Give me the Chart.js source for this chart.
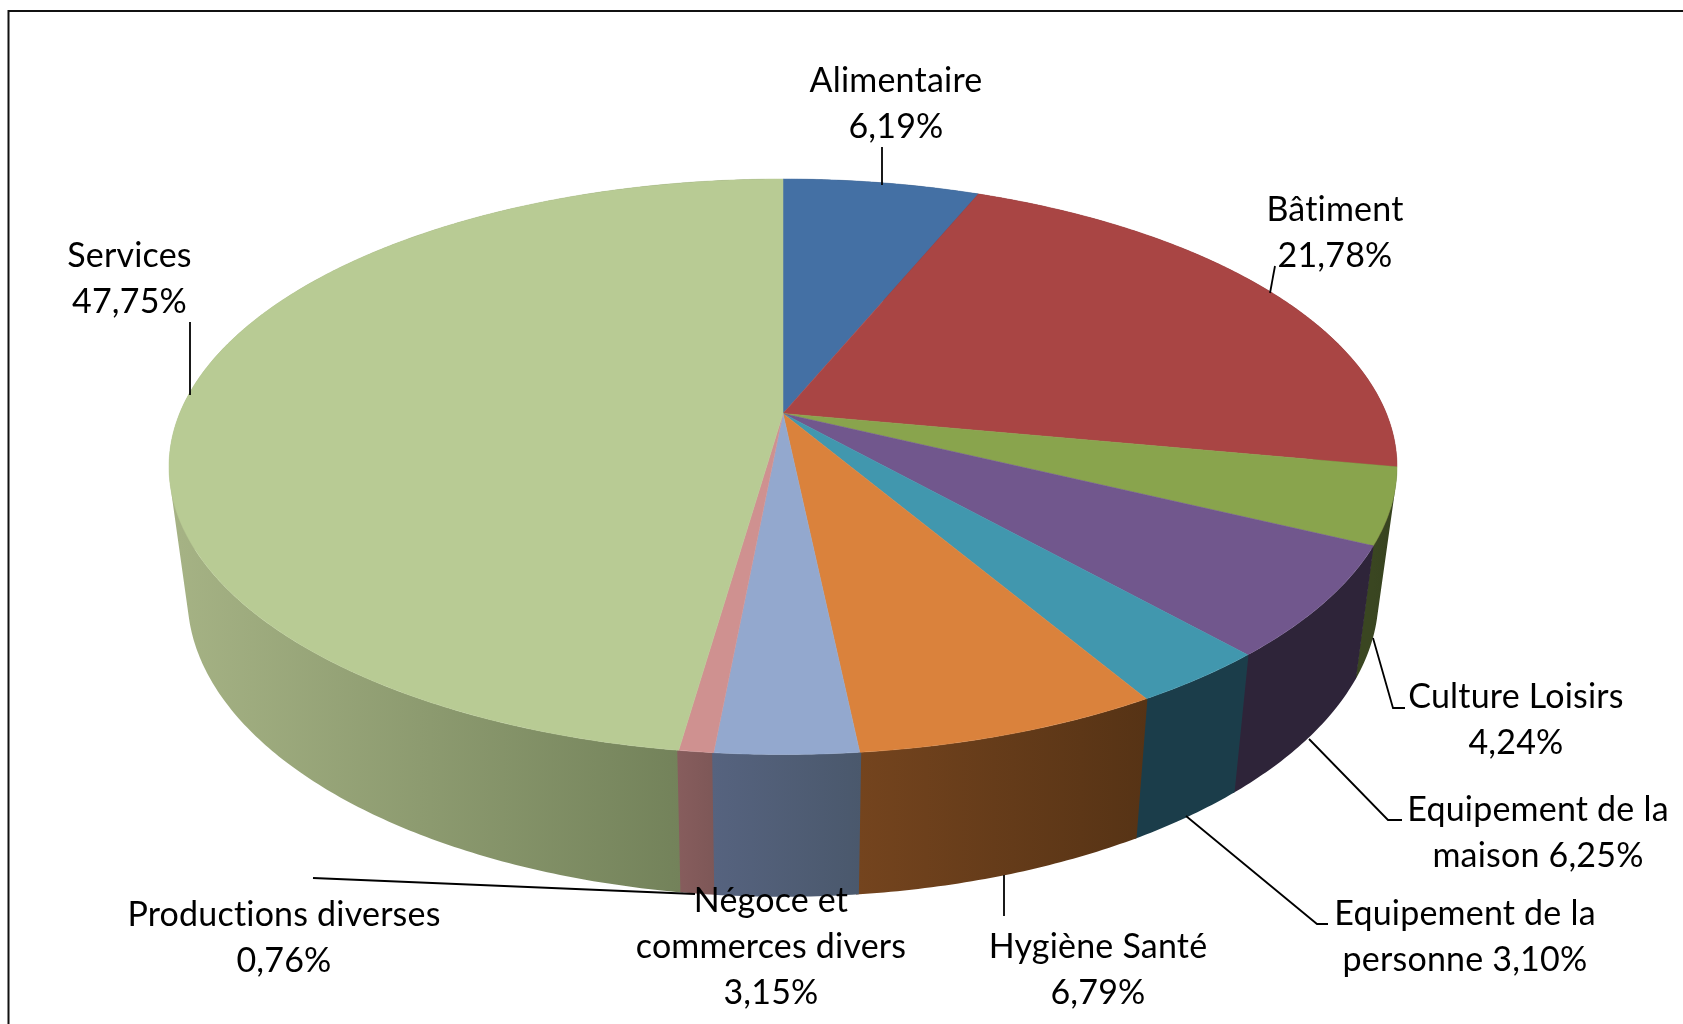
<!DOCTYPE html>
<html>
<head>
<meta charset="utf-8">
<style>
  html, body { margin: 0; padding: 0; background: #fff; }
  canvas { display: block; }
</style>
<script src="https://cdn.jsdelivr.net/npm/chart.js@4"></script>
</head>
<body>
<canvas id="myChart" width="1683" height="1024"></canvas>
<script>
const categories = ["Alimentaire", "Bâtiment", "Culture Loisirs", "Equipement de la maison",
  "Equipement de la personne", "Hygiène Santé", "Négoce et commerces divers",
  "Productions diverses", "Services"];
const values = [6.19, 21.78, 4.24, 6.25, 3.10, 6.79, 3.15, 0.76, 47.75];
const topColors = ["#4470A4", "#A94544", "#89A44D", "#71578D", "#4197AE", "#DA823C", "#93A8CE", "#CF9190", "#B8CB94"];
// side wall, left to right
const wallColors = [
  ["#2b4566", "#2b4566"], ["#672a29", "#672a29"], ["#3a4621", "#36421f"], ["#2e2439", "#2e2439"],
  ["#1b3d4a", "#1b3d4a"], ["#74441e", "#563315"], ["#56637f", "#4a586c"], ["#875d5d", "#7d5757"],
  ["#a6b385", "#73825a"]
];

// projection of the disc, measured on the picture
const cx = 783, halfWidth = 614, backY = 179, frontY = 754.5, apexY = 413.5;
const wallScale = 0.97, lowSlope = -189.8, lowApexY = 541;

// per category: text lines, text centre, first baseline, leader line
const labelLayout = [
  { lines: ["Alimentaire", "{v}"], x: 896, y: 92, leader: [[882, 147], [882, 185]] },
  { lines: ["Bâtiment", "{v}"], x: 1335, y: 220.5, leader: [[1275, 266], [1270, 293]] },
  { lines: ["Culture Loisirs", "{v}"], x: 1516, y: 708, leader: [[1373, 638], [1393, 708], [1405, 708]] },
  { lines: ["Equipement de la", "maison {v}"], x: 1538, y: 820.5, leader: [[1309, 739], [1388, 820], [1402, 820]] },
  { lines: ["Equipement de la", "personne {v}"], x: 1465, y: 925, leader: [[1186, 816], [1317, 924], [1328, 924]] },
  { lines: ["Hygiène Santé", "{v}"], x: 1098, y: 958, leader: [[1004, 875], [1004, 916]] },
  { lines: ["Négoce et", "commerces divers", "{v}"], x: 771, y: 912, leader: [] },
  { lines: ["Productions diverses", "{v}"], x: 284, y: 925.5, leader: [[313, 878], [695, 894]] },
  { lines: ["Services", "{v}"], x: 129.5, y: 266.5, leader: [[190, 322], [190, 395]] }
];

const k = (backY + frontY - 2 * apexY) / (frontY - backY);
const a = backY * (1 + k) - apexY;
const d = halfWidth * Math.sqrt(1 - k * k);

function project(angle) {
  const u = Math.cos(angle), v = -Math.sin(angle);
  const w = 1 + k * v;
  return {
    x: cx + d * u / w, y: (a * v + apexY) / w, v: v,
    lx: cx + wallScale * d * u / w, ly: (lowSlope * v + lowApexY) / w
  };
}
function arcPoints(el, step, overlap) {
  const pts = [];
  const from = el.startAngle - overlap, to = el.endAngle + overlap;
  const n = Math.max(4, Math.ceil((to - from) / step));
  for (let i = 0; i <= n; i++) {
    pts.push(project(from + (to - from) * i / n));
  }
  return pts;
}
function addQuad(ctx, q) {
  let area = 0;
  q.forEach((p, i) => {
    const r = q[(i + 1) % 4];
    area += p[0] * r[1] - r[0] * p[1];
  });
  const pts = area < 0 ? q.slice().reverse() : q;
  pts.forEach((p, i) => i ? ctx.lineTo(p[0], p[1]) : ctx.moveTo(p[0], p[1]));
  ctx.closePath();
}

const pie3d = {
  id: "pie3d",
  beforeDatasetDraw(chart) {
    const ctx = chart.ctx;
    const arcs = chart.getDatasetMeta(0).data;
    // walls from back to front, the top faces then hide the back ones
    const order = arcs.map((el, i) => i).sort((i, j) => {
      return project((arcs[j].startAngle + arcs[j].endAngle) / 2).v < project((arcs[i].startAngle + arcs[i].endAngle) / 2).v ? -1 : 1;
    });
    order.forEach(i => {
      // small overlap so no light seam shows between two walls
      const pts = arcPoints(arcs[i], 0.01, 0.002);
      const front = pts.filter(p => p.v < 0);
      const xs = (front.length ? front : pts).map(p => p.x);
      const g = ctx.createLinearGradient(Math.min(...xs), 0, Math.max(...xs) + 1, 0);
      g.addColorStop(0, wallColors[i][0]);
      g.addColorStop(1, wallColors[i][1]);
      // one quad per step in a single path, so the tangent edge of the wall is filled too
      ctx.beginPath();
      for (let n = 0; n < pts.length - 1; n++) {
        const p = pts[n], q = pts[n + 1];
        addQuad(ctx, [[p.x, p.y], [q.x, q.y], [q.lx, q.ly], [p.lx, p.ly]]);
      }
      ctx.fillStyle = g;
      ctx.fill();
    });
    arcs.forEach(el => {
      const pts = arcPoints(el, 0.005, 0);
      ctx.beginPath();
      ctx.moveTo(cx, apexY);
      pts.forEach(p => ctx.lineTo(p.x, p.y));
      ctx.closePath();
      ctx.fillStyle = el.options.backgroundColor;
      ctx.strokeStyle = el.options.backgroundColor;
      ctx.lineWidth = 0.5;
      ctx.fill();
      ctx.stroke();
    });
    return false;
  },
  afterDraw(chart) {
    const ctx = chart.ctx;
    // frame, only top and left are in the picture
    ctx.strokeStyle = "#111";
    ctx.lineWidth = 2;
    ctx.beginPath();
    ctx.moveTo(8.5, 1024);
    ctx.lineTo(8.5, 11);
    ctx.lineTo(1683, 11);
    ctx.stroke();

    ctx.strokeStyle = "#000";
    ctx.lineWidth = 1.8;
    labelLayout.forEach(l => {
      if (!l.leader.length) return;
      ctx.beginPath();
      l.leader.forEach((p, n) => n ? ctx.lineTo(p[0], p[1]) : ctx.moveTo(p[0], p[1]));
      ctx.stroke();
    });

    ctx.fillStyle = "#000";
    ctx.font = "34px Lato";
    ctx.letterSpacing = "0.2px";
    ctx.textAlign = "center";
    ctx.textBaseline = "alphabetic";
    labelLayout.forEach((l, i) => {
      const txt = values[i].toFixed(2).replace(".", ",") + "%";
      l.lines.forEach((line, n) => ctx.fillText(line.replace("{v}", txt), l.x, l.y + n * 46));
    });
  }
};

new Chart(document.getElementById("myChart").getContext("2d"), {
  type: "pie",
  data: {
    labels: categories,
    datasets: [{ data: values, backgroundColor: topColors, borderWidth: 0 }]
  },
  options: {
    responsive: false,
    animation: false,
    plugins: { legend: { display: false }, tooltip: { enabled: false } }
  },
  plugins: [pie3d]
});
</script>
</body>
</html>
